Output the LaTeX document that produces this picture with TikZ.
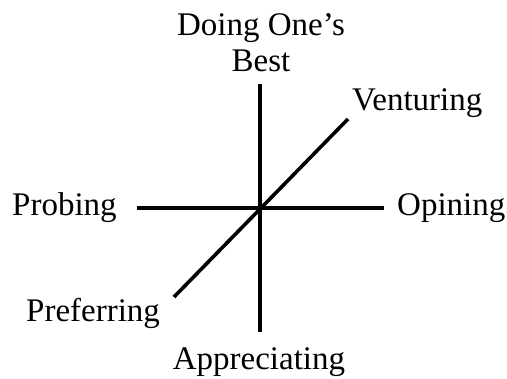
\documentclass[tikz,border=0pt]{standalone}
\usepackage{fontspec}
\setmainfont{Liberation Serif}
\usetikzlibrary{positioning}

\begin{document}
\begin{tikzpicture}[x=1pt, y=-1pt, every node/.style={inner sep=0pt, font=\fontsize{33}{36}\selectfont, align=center}, axis/.style={line width=3.6pt}]
\useasboundingbox (0,0) rectangle (507,379);
\coordinate (centre) at (260,208);
\coordinate (top) at (260,84);
\coordinate (bottom) at (260,332);
\coordinate (left) at (137,208);
\coordinate (right) at (384,208);
\coordinate (upper) at (348,119);
\coordinate (lower) at (174,297);
\node (best) [anchor=base] at (261,72) {Doing One’s\\Best};
\node (venturing) [anchor=base west] at (352,111) {Venturing};
\node (probing) [anchor=base west] at (12,216) {Probing};
\node (opining) [anchor=base west] at (397,216) {Opining};
\node (preferring) [anchor=base west] at (26,322) {Preferring};
\node (appreciating) [anchor=base] at (259,370) {Appreciating};
\draw[axis] (top) -- (bottom);
\draw[axis] (left) -- (right);
\draw[axis] (lower) -- (upper);
\end{tikzpicture}
\end{document}
